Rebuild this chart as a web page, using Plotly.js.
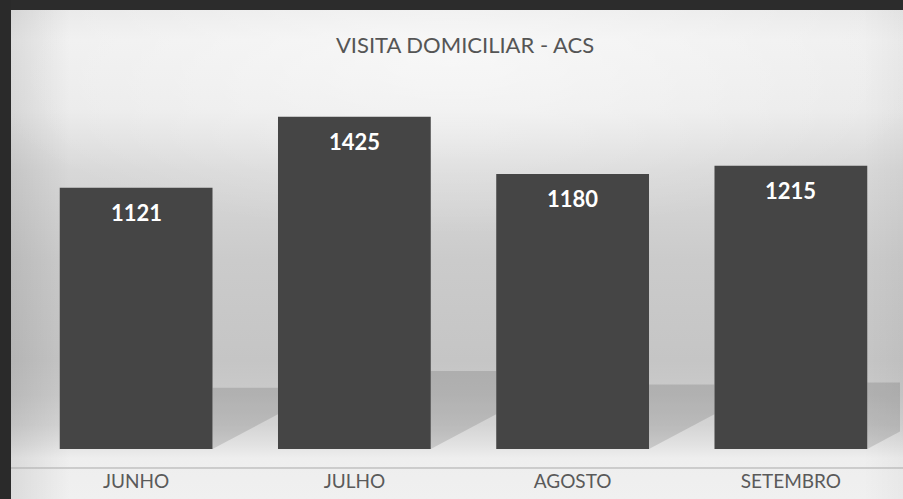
<!DOCTYPE html>
<html>
<head>
<meta charset="utf-8">
<script src="https://cdn.plot.ly/plotly-3.0.1.min.js"></script>
<style>
  html, body { margin: 0; padding: 0; overflow: hidden; }
  #wrap {
    position: relative; width: 903px; height: 499px; overflow: hidden;
    background:
      linear-gradient(to right, rgba(0,0,0,0.10) 0px, rgba(0,0,0,0.0) 70px),
      linear-gradient(to left, rgba(0,0,0,0.03) 0px, rgba(0,0,0,0.0) 40px),
      radial-gradient(ellipse 55% 35% at 50% 12%, rgba(255,255,255,0.55), rgba(255,255,255,0) 100%),
      linear-gradient(to bottom, #e6e6e6 0px, #efefef 40px, #eaeaea 110px, #d8d8d8 170px, #cbcbcb 260px, #c5c5c5 360px, #cacaca 395px, #d4d4d4 425px, #e2e2e2 445px, #eeeeee 458px, #f0f0f0 499px);
  }
  #chart { position: absolute; left: 0; top: 0; width: 903px; height: 499px; }
  .frame-top { position: absolute; left: 0; top: 0; width: 903px; height: 10px; background: #2c2c2c; z-index: 5; }
  .frame-left { position: absolute; left: 0; top: 0; width: 11px; height: 499px; background: #2a2a2a; z-index: 5; }
</style>
</head>
<body>
<div id="wrap">
  <div id="chart"></div>
  <div class="frame-top"></div>
  <div class="frame-left"></div>
</div>
<script>
const categories = ['JUNHO', 'JULHO', 'AGOSTO', 'SETEMBRO'];
const visits = [1121, 1425, 1180, 1215];
const chartTitle = 'VISITA DOMICILIAR - ACS';

const halfBar = 0.35;

const trace = {
  type: 'bar',
  x: categories,
  y: visits,
  marker: { color: '#454545', line: { width: 0 } },
  hoverinfo: 'none'
};

// decorative shadows to the right of each bar (from the photo), derived from the data
const shapes = visits.map((v, i) => {
  const xr = i + halfBar;
  const xn = i + 1 - halfBar;
  const top = v * 0.235;
  return {
    type: 'path', xref: 'x', yref: 'y', layer: 'below',
    path: `M ${xr},${top} L ${xn},${top} L ${xn},${150} L ${xr},0 Z`,
    fillcolor: 'rgba(0,0,0,0.12)', line: { width: 0 }
  };
});
shapes.push({
  type: 'line', xref: 'paper', yref: 'paper',
  x0: -0.019, x1: 1.004, y0: 0, y1: 0,
  line: { color: '#a9a9a9', width: 1 }
});

const annotations = categories.map((c, i) => ({
  x: c, y: visits[i], xref: 'x', yref: 'y',
  text: '<b>' + visits[i] + '</b>',
  showarrow: false, yanchor: 'middle', yshift: -25,
  font: { family: 'Lato, sans-serif', size: 22, color: '#ffffff' }
}));

const layout = {
  width: 903, height: 499,
  margin: { l: 27, r: 3, t: 76, b: 31 },
  paper_bgcolor: 'rgba(0,0,0,0)',
  plot_bgcolor: 'rgba(0,0,0,0)',
  title: {
    text: chartTitle,
    xref: 'container', yref: 'container',
    x: 0.515, xanchor: 'center', y: 1 - 45 / 499, yanchor: 'middle',
    font: { family: 'Lato, sans-serif', size: 22, color: '#555555' }
  },
  bargap: 0.3,
  showlegend: false,
  xaxis: {
    type: 'category',
    range: [-0.5, categories.length - 0.5],
    showgrid: false, zeroline: false, showline: false, ticks: '',
    tickfont: { family: 'Lato, sans-serif', size: 19, color: '#5a5a5a' }
  },
  yaxis: {
    range: [-81, 1600],
    visible: false, showgrid: false, zeroline: false
  },
  shapes: shapes,
  annotations: annotations
};

Plotly.newPlot('chart', [trace], layout, { displayModeBar: false, staticPlot: true });
</script>
</body>
</html>
